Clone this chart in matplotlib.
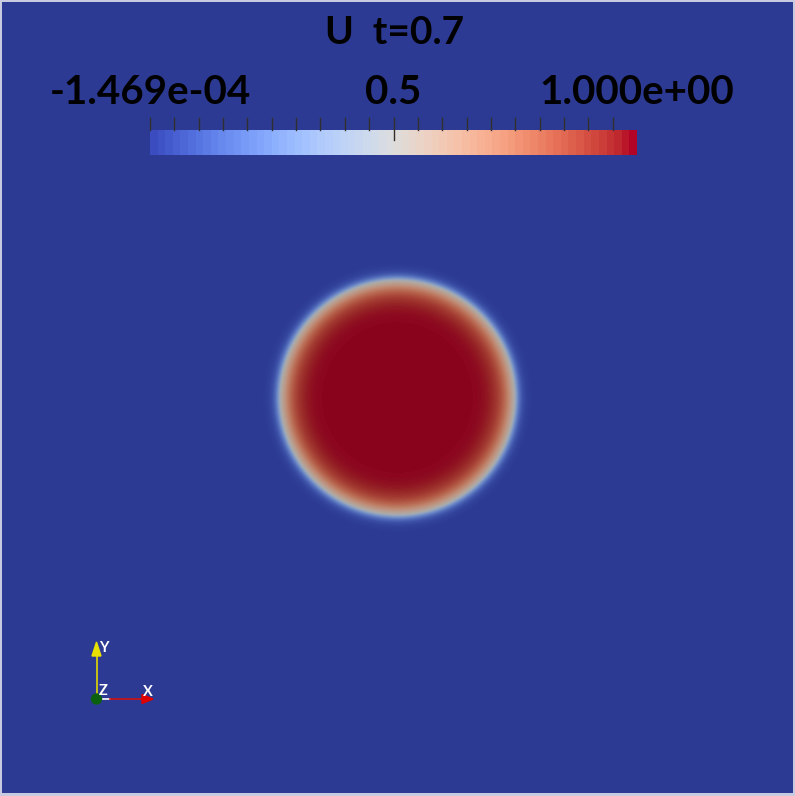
import matplotlib
matplotlib.use("Agg")
import matplotlib.pyplot as plt
import numpy as np
from matplotlib.patches import Polygon, Circle

# field values / annotations
field_name = "U"
time_value = 0.7
u_min = -1.469e-04
u_max = 1.0
bar_labels = ["-1.469e-04", "0.5", "1.000e+00"]
bar_label_vals = [u_min, 0.5, u_max]
tick_vals = [0.0, 0.05, 0.10, 0.15, 0.20, 0.25, 0.30, 0.35, 0.40, 0.45,
             0.50, 0.55, 0.60, 0.65, 0.70, 0.75, 0.80, 0.85, 0.90, 0.95]

# drop: centre, radius and interface widths (inner / outer), domain units
drop_center = (0.5, 0.5)
drop_radius = 0.148
width_in = 0.019
width_out = 0.008

W, H = 795, 796
cmap = plt.get_cmap("coolwarm")
shade = 0.77  # surface lighting darkens the rendered field

fig = plt.figure(figsize=(W / 100, H / 100), dpi=100)
fig.patch.set_facecolor("#c8cbe0")

# --- the field ---
ax = fig.add_axes([2 / W, 3 / H, 791 / W, 791 / H])
x = np.linspace(0, 1, 791)
y = np.linspace(0, 1, 791)
X, Y = np.meshgrid(x, y)
r = np.hypot(X - drop_center[0], Y - drop_center[1])
d = r - drop_radius
w = np.where(d < 0, width_in, width_out)
u = 0.5 * (1 - np.tanh(d / w))
u = u_min + (u_max - u_min) * u
rgb = cmap((u - u_min) / (u_max - u_min))[..., :3] * shade
ax.imshow(rgb, origin="lower", extent=[0, 1, 0, 1], interpolation="bilinear")
ax.set_axis_off()

# --- overlay in pixel coords ---
ov = fig.add_axes([0, 0, 1, 1])
ov.set_xlim(0, W)
ov.set_ylim(H, 0)
ov.set_axis_off()
ov.patch.set_alpha(0)

font = ["Lato", "DejaVu Sans"]

# colour bar
bx0, bx1, by0, by1 = 150, 637, 130, 155
n_colors = 64
strip = cmap(np.linspace(0, 1, n_colors))[None, :, :3]
ov.imshow(strip, extent=[bx0, bx1, by1, by0], aspect="auto",
          interpolation="nearest", zorder=3)

def val2px(v):
    return bx0 + (v - u_min) / (u_max - u_min) * (bx1 - bx0)

for tv in tick_vals:
    px = val2px(tv)
    bottom = 140 if abs(tv - 0.5) < 1e-9 else by0
    ov.plot([px, px], [118, bottom], color="#303030", lw=1, zorder=4)

for lab, v in zip(bar_labels, bar_label_vals):
    ov.text(val2px(v), 93, lab, ha="center", va="center", fontsize=29,
            fontweight="bold", family=font, color="black", zorder=5)

ov.text(395, 33, f"{field_name}  t={time_value}", ha="center", va="center",
        fontsize=28, fontweight="bold", family=font, color="black", zorder=5)

# orientation triad
ox, oy = 96.5, 699
ov.plot([ox, ox], [oy, 655], color="#e0d800", lw=1.2, zorder=6)
ov.add_patch(Polygon([[ox - 4.5, 656], [ox + 4.5, 656], [ox, 642]],
                     closed=True, color="#e8e000", zorder=7))
ov.plot([102, 110], [oy, oy], color="white", lw=1.2, zorder=6)
ov.plot([110, 142], [oy, oy], color="#d01010", lw=1.2, zorder=6)
ov.add_patch(Polygon([[142, oy - 4.5], [142, oy + 4.5], [153, oy]],
                     closed=True, color="#e00000", zorder=7))
ov.add_patch(Circle((ox, oy), 5, color="#0b6010", zorder=8))
for tx, ty, t in [(99.5, 648, "Y"), (98.5, 691, "Z"), (142.5, 692, "X")]:
    ov.text(tx, ty, t, ha="left", va="center", fontsize=10.5, color="white",
            family=font, fontweight="bold", zorder=9)

fig.savefig("out.png", dpi=100, facecolor=fig.get_facecolor())
